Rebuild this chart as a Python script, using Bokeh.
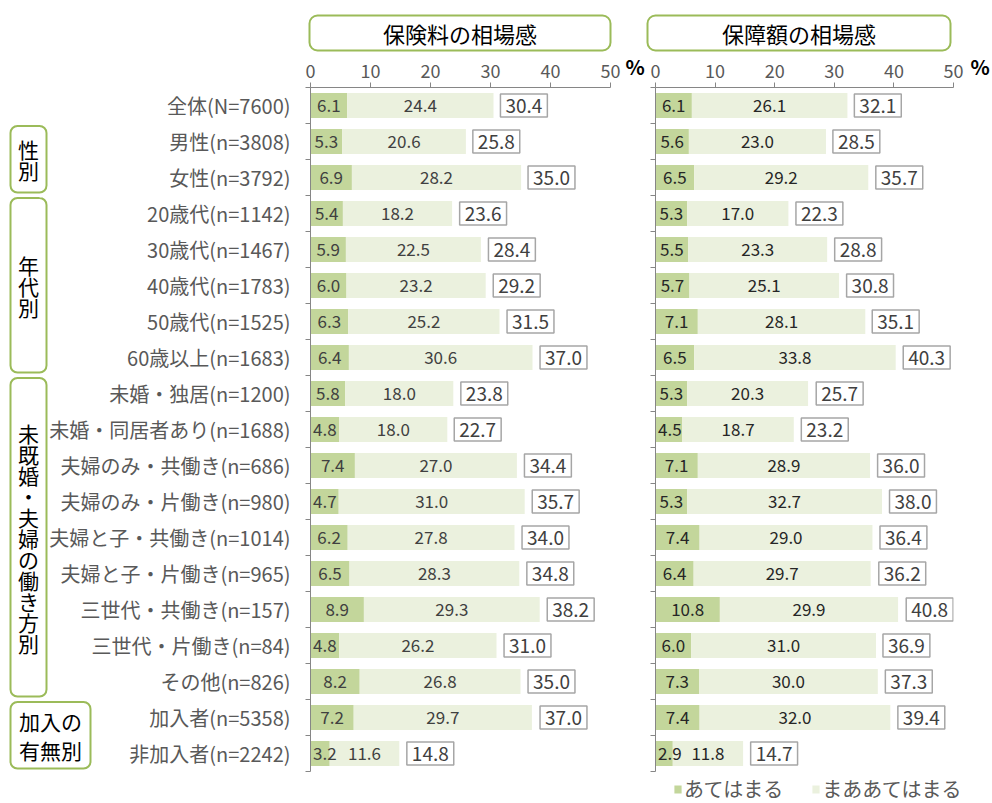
from bokeh.plotting import figure
from bokeh.models import (Range1d, FixedTicker, BoxAnnotation, Label, Legend,
                          LegendItem, ColumnDataSource)
from bokeh.layouts import row, column
from bokeh.embed import file_html
from bokeh.resources import INLINE
from bokeh.core.properties import value

categories = [
    "全体(N=7600)", "男性(n=3808)", "女性(n=3792)",
    "20歳代(n=1142)", "30歳代(n=1467)", "40歳代(n=1783)", "50歳代(n=1525)", "60歳以上(n=1683)",
    "未婚・独居(n=1200)", "未婚・同居者あり(n=1688)", "夫婦のみ・共働き(n=686)",
    "夫婦のみ・片働き(n=980)", "夫婦と子・共働き(n=1014)", "夫婦と子・片働き(n=965)",
    "三世代・共働き(n=157)", "三世代・片働き(n=84)", "その他(n=826)",
    "加入者(n=5358)", "非加入者(n=2242)",
]

premium_fit = [6.1, 5.3, 6.9, 5.4, 5.9, 6.0, 6.3, 6.4, 5.8, 4.8, 7.4, 4.7, 6.2, 6.5, 8.9, 4.8, 8.2, 7.2, 3.2]
premium_somewhat = [24.4, 20.6, 28.2, 18.2, 22.5, 23.2, 25.2, 30.6, 18.0, 18.0, 27.0, 31.0, 27.8, 28.3, 29.3, 26.2, 26.8, 29.7, 11.6]
premium_total = [30.4, 25.8, 35.0, 23.6, 28.4, 29.2, 31.5, 37.0, 23.8, 22.7, 34.4, 35.7, 34.0, 34.8, 38.2, 31.0, 35.0, 37.0, 14.8]

coverage_fit = [6.1, 5.6, 6.5, 5.3, 5.5, 5.7, 7.1, 6.5, 5.3, 4.5, 7.1, 5.3, 7.4, 6.4, 10.8, 6.0, 7.3, 7.4, 2.9]
coverage_somewhat = [26.1, 23.0, 29.2, 17.0, 23.3, 25.1, 28.1, 33.8, 20.3, 18.7, 28.9, 32.7, 29.0, 29.7, 29.9, 31.0, 30.0, 32.0, 11.8]
coverage_total = [32.1, 28.5, 35.7, 22.3, 28.8, 30.8, 35.1, 40.3, 25.7, 23.2, 36.0, 38.0, 36.4, 36.2, 40.8, 36.9, 37.3, 39.4, 14.7]

x_ticks = [0, 10, 20, 30, 40, 50]
panel_titles = ["保険料の相場感", "保障額の相場感"]
legend_labels = ["あてはまる", "まああてはまる"]
group_labels = ["性\n別", "年\n代\n別", "未\n既\n婚\n・\n夫\n婦\nの\n働\nき\n方\n別", "加入の\n有無別"]
group_first_row = [1, 3, 8, 17]
group_end_row = [3, 8, 17, 19]

FONT = "Noto Sans CJK JP"
DARK = "#c3d69b"
LIGHT = "#ebf1de"
GREEN = "#9bbb59"
AXIS = "#868686"
LABEL = "#595959"
NUM = "#404040"
n = len(categories)
centers = [i + 0.5 for i in range(n)]
bounds = list(range(n + 1))

MAIN_H = 723      # height of the middle row (y 52..775)
TOP_B, BOT_B = 35, 4
MIN_LABEL_X = 2.4  # keep the first in-bar label inside the plot area


def blank(width, height, xr, yr, top=0, bottom=0, align=True):
    p = figure(width=width, height=height, x_range=xr, y_range=yr,
               x_axis_location=None, y_axis_location=None,
               toolbar_location=None, output_backend="svg",
               min_border_left=0, min_border_right=0, min_border_top=top,
               min_border_bottom=bottom, frame_align=align)
    p.outline_line_color = None
    p.grid.visible = False
    return p


def make_panel(fit, somewhat, total, width, border_left, border_right, num_color):
    p = figure(width=width, height=MAIN_H, x_range=Range1d(0, 50), y_range=Range1d(n, 0),
               x_axis_location="above", toolbar_location=None, output_backend="svg",
               min_border_left=border_left, min_border_right=border_right,
               min_border_top=TOP_B, min_border_bottom=BOT_B)
    p.outline_line_color = None
    p.grid.visible = False

    stacked = [a + b for a, b in zip(fit, somewhat)]
    src = ColumnDataSource(dict(
        y=centers, fit=fit, stacked=stacked,
        fit_mid=[max(a / 2, MIN_LABEL_X) for a in fit],
        som_mid=[a + b / 2 for a, b in zip(fit, somewhat)],
        fit_lab=["%.1f" % v for v in fit],
        som_lab=["%.1f" % v for v in somewhat],
        total=total, total_lab=["%.1f" % v for v in total],
    ))
    p.hbar(y="y", left=0, right="fit", height=0.69, source=src, fill_color=DARK, line_color=None)
    p.hbar(y="y", left="fit", right="stacked", height=0.69, source=src, fill_color=LIGHT, line_color=None)
    p.text(x="fit_mid", y="y", text="fit_lab", source=src, text_align="center", text_baseline="middle",
           text_font=value(FONT), text_font_size="17px", text_color=num_color)
    p.text(x="som_mid", y="y", text="som_lab", source=src, text_align="center", text_baseline="middle",
           text_font=value(FONT), text_font_size="17px", text_color=num_color)
    p.text(x="total", y="y", text="total_lab", source=src, x_offset=31, text_align="center",
           text_baseline="middle", text_font=value(FONT), text_font_size="19px", text_color=NUM,
           border_line_color="#a6a6a6", border_line_width=1.5, background_fill_color="white",
           padding=dict(left=5, right=5, top=5, bottom=4))

    xa = p.xaxis[0]
    xa.ticker = FixedTicker(ticks=x_ticks)
    xa.axis_line_color = AXIS
    xa.major_tick_line_color = AXIS
    xa.major_tick_out = 5
    xa.major_tick_in = 0
    xa.minor_tick_out = 0
    xa.minor_tick_in = 0
    xa.major_label_standoff = 5
    xa.major_label_text_font = FONT
    xa.major_label_text_font_size = "18px"
    xa.major_label_text_color = LABEL

    ya = p.yaxis[0]
    ya.ticker = FixedTicker(ticks=[], minor_ticks=bounds)
    ya.axis_line_color = AXIS
    ya.major_tick_out = 0
    ya.major_tick_in = 0
    ya.minor_tick_line_color = AXIS
    ya.minor_tick_out = 5
    ya.minor_tick_in = 0
    ya.major_label_standoff = 0
    return p


# ---- top strip: panel titles
top = blank(992, 52, Range1d(0, 992), Range1d(52, 0), align=False)
for (x0, x1), title in zip([(309, 610), (647, 950)], panel_titles):
    top.add_layout(BoxAnnotation(left=x0, right=x1, top=15, bottom=50,
                                 fill_color=None, line_color=GREEN, line_alpha=1.0,
                                 line_width=2, border_radius=8))
    top.add_layout(Label(x=(x0 + x1) / 2, y=32.5, text=title, text_align="center",
                         text_baseline="middle", text_font=FONT, text_font_size="22px",
                         text_color="black"))

# ---- side: category labels and group boxes
side = blank(302, MAIN_H, Range1d(0, 302), Range1d(n, 0), top=TOP_B, bottom=BOT_B)
side.text(x=[290] * n, y=centers, text=categories, text_align="right", text_baseline="middle",
          text_font=value(FONT), text_font_size="20px", text_color=LABEL)
for lab, g0, g1 in zip(group_labels, group_first_row, group_end_row):
    wide = len(lab.split("\n")[0]) > 1
    x1 = 90 if wide else 46
    side.add_layout(BoxAnnotation(left=10, right=x1, top=g0 + 0.07, bottom=g1 - 0.08,
                                  fill_color=None, line_color=GREEN, line_alpha=1.0,
                                  line_width=2, border_radius=7))
    side.add_layout(Label(x=(10 + x1) / 2, y=(g0 + g1) / 2, text=lab, text_align="center",
                          text_baseline="middle", text_font=FONT, text_font_size="21px",
                          text_color="black", text_line_height=0.98 if wide else 0.7))

left = make_panel(premium_fit, premium_somewhat, premium_total, 320, 8, 12, NUM)
right = make_panel(coverage_fit, coverage_somewhat, coverage_total, 320, 10, 12, "#262626")

# ---- small gaps that carry the "%" unit
gap_l = blank(23, MAIN_H, Range1d(0, 23), Range1d(MAIN_H, 0), align=False)
gap_l.add_layout(Label(x=3, y=14, text="%", text_align="left", text_baseline="middle",
                       text_font=FONT, text_font_size="20px", text_font_style="bold",
                       text_color="black"))
gap_r = blank(27, MAIN_H, Range1d(0, 27), Range1d(MAIN_H, 0), align=False)
gap_r.add_layout(Label(x=5, y=14, text="%", text_align="left", text_baseline="middle",
                       text_font=FONT, text_font_size="20px", text_font_style="bold",
                       text_color="black"))

# ---- bottom strip: legend (zero-size swatch renderers carry the colours)
bottom = blank(992, 28, Range1d(0, 992), Range1d(0, 28), align=False)
d1 = bottom.hbar(y=[0], left=[0], right=[0], height=0, fill_color=DARK, line_color=None)
d2 = bottom.hbar(y=[0], left=[0], right=[0], height=0, fill_color=LIGHT, line_color=None)
legend = Legend(items=[LegendItem(label=legend_labels[0], renderers=[d1]),
                       LegendItem(label=legend_labels[1], renderers=[d2])],
                location=(673, 0), orientation="horizontal",
                label_text_font=FONT, label_text_font_size="20px", label_text_color=LABEL,
                glyph_width=9, glyph_height=10, label_standoff=2, spacing=28,
                padding=0, margin=0, border_line_color=None, background_fill_color=None)
bottom.add_layout(legend)

layout = column(top, row(side, left, gap_l, right, gap_r), bottom, spacing=0)
open("out.html", "w").write(file_html(layout, INLINE))
